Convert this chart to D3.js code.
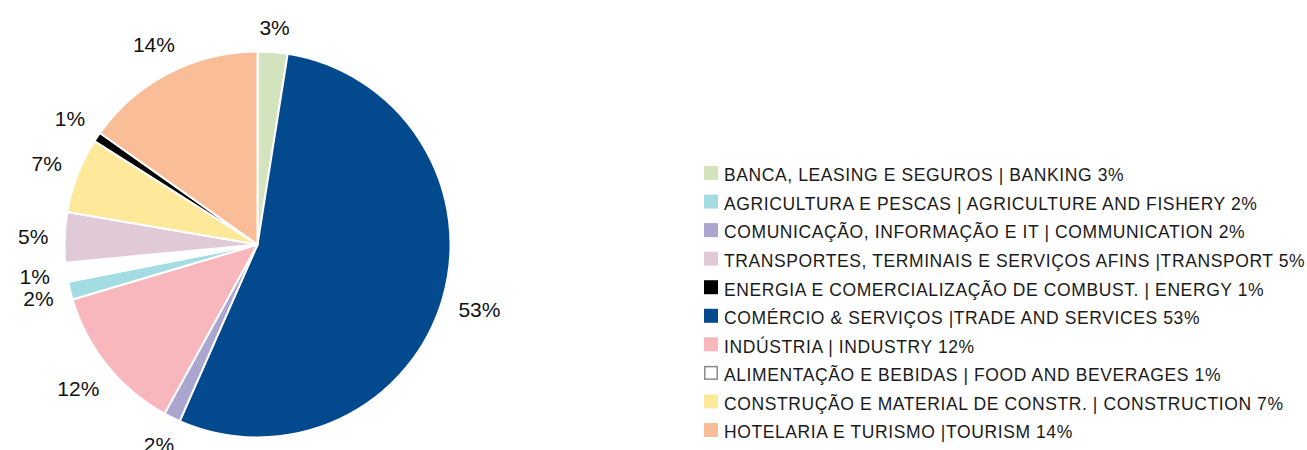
<!DOCTYPE html>
<html>
<head>
<meta charset="utf-8">
<script src="https://cdn.jsdelivr.net/npm/d3@7"></script>
<style>
  body { margin: 0; background: #fff; }
  svg text { font-family: "Liberation Sans", Arial, sans-serif; }
</style>
</head>
<body>
<div class="chart"></div>
<script>
// slices, clockwise from 12 o'clock
var sectors = ["banking", "trade", "communication", "industry", "agriculture",
               "food", "transport", "construction", "energy", "tourism"];
var shares = [2.5, 54.1, 1.4, 12.4, 1.5, 1.6, 4.2, 6.3, 0.8, 15.2];
var pctLabels = ["3%", "53%", "2%", "12%", "2%", "1%", "5%", "7%", "1%", "14%"];
var colors = ["#d3e3bd", "#03498e", "#aaa6ce", "#f7b7bc", "#a3dce3",
              "#ffffff", "#e0cad8", "#fee899", "#000000", "#f9bd98"];

// legend, top to bottom
var legendOrder = ["banking", "agriculture", "communication", "transport", "energy",
                   "trade", "industry", "food", "construction", "tourism"];
var legendText = [
  "BANCA, LEASING E SEGUROS | BANKING 3%",
  "AGRICULTURA E PESCAS | AGRICULTURE AND FISHERY 2%",
  "COMUNICAÇÃO, INFORMAÇÃO E IT | COMMUNICATION 2%",
  "TRANSPORTES, TERMINAIS E SERVIÇOS AFINS |TRANSPORT 5%",
  "ENERGIA E COMERCIALIZAÇÃO DE COMBUST. | ENERGY 1%",
  "COMÉRCIO & SERVIÇOS |TRADE AND SERVICES 53%",
  "INDÚSTRIA | INDUSTRY 12%",
  "ALIMENTAÇÃO E BEBIDAS | FOOD AND BEVERAGES 1%",
  "CONSTRUÇÃO E MATERIAL DE CONSTR. | CONSTRUCTION 7%",
  "HOTELARIA E TURISMO |TOURISM 14%"
];

var svgWidth = 1307, svgHeight = 450;
var cx = 257.5, cy = 244.5, radius = 193;
var labelGap = 16;

var svg = d3.select(".chart")
  .append("svg")
  .attr("width", svgWidth)
  .attr("height", svgHeight);

var data = sectors.map(function(s, i) {
  return { key: s, value: shares[i], label: pctLabels[i], color: colors[i] };
});

var pie = d3.pie().sort(null).value(d => d.value);
var arc = d3.arc().innerRadius(0).outerRadius(radius);

var pieGroup = svg.append("g")
  .attr("transform", `translate(${cx}, ${cy})`);

var arcs = pie(data);

pieGroup.selectAll("path")
  .data(arcs)
  .enter()
  .append("path")
  .attr("d", arc)
  .attr("fill", d => d.data.color)
  .attr("stroke", "#fff")
  .attr("stroke-width", 2)
  .attr("stroke-linejoin", "round");

// percentage labels: pushed out so the text box clears the rim by labelGap
var labels = pieGroup.selectAll("text")
  .data(arcs)
  .enter()
  .append("text")
  .attr("dy", "0.36em")
  .attr("text-anchor", "middle")
  .style("font-size", "21px")
  .attr("fill", "#111")
  .text(d => d.data.label);

labels.each(function(d) {
  var w = this.getComputedTextLength();
  var h = 21 * 0.72;
  var a = (d.startAngle + d.endAngle) / 2;
  var off = Math.abs(Math.sin(a)) * w / 2 + Math.abs(Math.cos(a)) * h / 2;
  var r = radius + labelGap + off;
  d3.select(this)
    .attr("x", r * Math.sin(a))
    .attr("y", -r * Math.cos(a));
});

// legend
var legendY = d3.scalePoint()
  .domain(legendOrder)
  .range([166, 423]);

var legend = svg.append("g");

var rows = legend.selectAll("g")
  .data(legendOrder)
  .enter()
  .append("g")
  .attr("transform", d => `translate(704, ${legendY(d)})`);

rows.append("rect")
  .attr("x", d => d === "food" ? 0.75 : 0)
  .attr("y", d => d === "food" ? 0.75 : 0)
  .attr("width", d => d === "food" ? 12.5 : 14)
  .attr("height", d => d === "food" ? 12.5 : 14)
  .attr("fill", d => colors[sectors.indexOf(d)])
  .attr("stroke", d => d === "food" ? "#8a8a8a" : "none")
  .attr("stroke-width", 1.5);

rows.append("text")
  .attr("x", 20)
  .attr("y", 15.3)
  .style("font-size", "17.5px")
  .style("letter-spacing", "0.6px")
  .attr("fill", "#1a1a1a")
  .text((d, i) => legendText[i]);
</script>
</body>
</html>
